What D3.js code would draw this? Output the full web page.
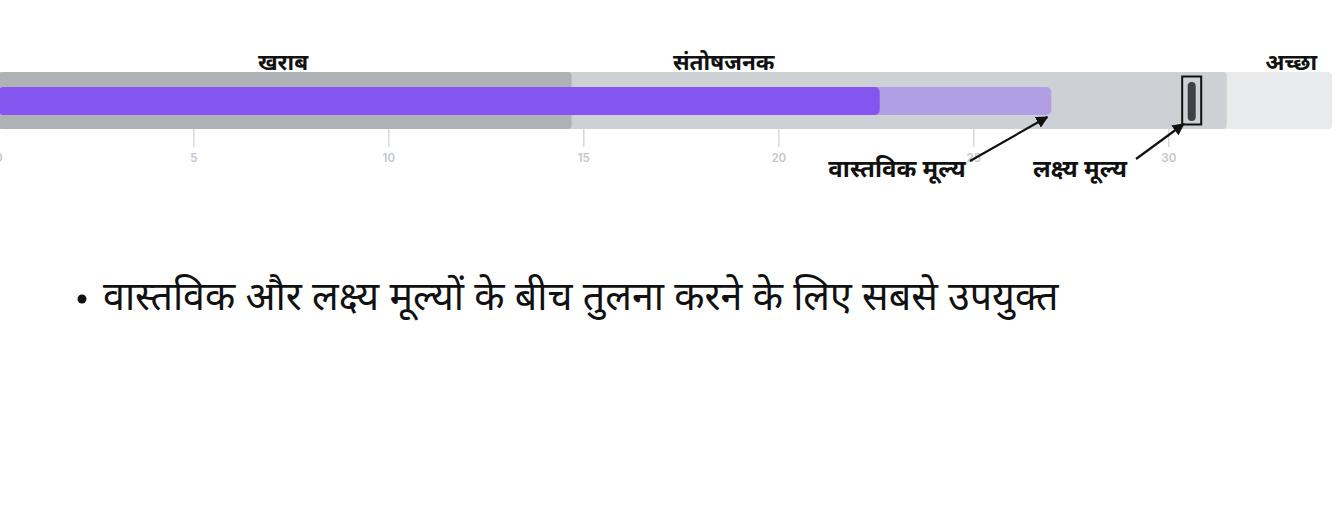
<!DOCTYPE html>
<html><head><meta charset="utf-8">
<script src="https://cdn.jsdelivr.net/npm/d3@7/dist/d3.min.js"></script>
<style>
html,body{margin:0;padding:0;background:#fff;}
svg{display:block;}
</style></head>
<body>
<svg id="chart" width="1342" height="509"></svg>
<script>
// ---- data ----
const bandNames = ["खराब", "संतोषजनक", "अच्छा"];
const bandEnds = [14.7, 31.5, 34.2];
const bandLabelPos = [7.3, 18.6, 33.15];
const actualValue = [22.6];
const projectedValue = [27.0];
const targetValue = [30.6];
const tickValues = [0, 5, 10, 15, 20, 25, 30];
const annotationLabels = ["वास्तविक मूल्य", "लक्ष्य मूल्य"];
const bulletText = ["वास्तविक और लक्ष्य मूल्यों के बीच तुलना करने के लिए सबसे उपयुक्त"];

// ---- drawing ----
(function () {
const svg = d3.select("#chart");
const x = d3.scaleLinear().domain([0, 30]).range([-1.7, 1168.3]);
const bandColors = ["#aeb2b7", "#cdd0d4", "#e9eaec"];
const devFont = "'Noto Sans Devanagari','Noto Sans','Lohit Devanagari','Mangal',sans-serif";

const bandTop = 72, bandH = 57;
const bands = bandEnds.map((e, i) => ({start: i === 0 ? 0 : bandEnds[i - 1], end: e, i}));
svg.append("g").selectAll("rect").data(bands.slice().reverse()).join("rect")
  .attr("x", x(0)).attr("y", bandTop)
  .attr("width", d => x(d.end) - x(0))
  .attr("height", bandH)
  .attr("rx", 4)
  .attr("fill", d => bandColors[d.i]);

svg.append("rect")
  .attr("x", x(0)).attr("y", 87)
  .attr("width", x(projectedValue[0]) - x(0)).attr("height", 28)
  .attr("rx", 5).attr("fill", "#b19fe3");
svg.append("rect")
  .attr("x", x(0)).attr("y", 87)
  .attr("width", x(actualValue[0]) - x(0)).attr("height", 28)
  .attr("rx", 5).attr("fill", "#8555ef");

const tx = x(targetValue[0]);
svg.append("rect").attr("x", tx - 4).attr("y", 82).attr("width", 8).attr("height", 39)
  .attr("rx", 4).attr("fill", "#3d4247");
svg.append("rect").attr("x", tx - 9.5).attr("y", 76.5).attr("width", 19).attr("height", 48)
  .attr("fill", "none").attr("stroke", "#111").attr("stroke-width", 2);

const axis = d3.axisBottom(x).tickValues(tickValues).tickSize(18).tickPadding(4).tickFormat(d3.format("d"));
const ag = svg.append("g").attr("transform", `translate(0,${bandTop + bandH})`).call(axis);
ag.select(".domain").remove();
ag.selectAll(".tick line").attr("stroke", "#d6d9de").attr("stroke-width", 1.5);
ag.selectAll(".tick text").attr("fill", "#c3c7ce").attr("font-family", "Inter, 'Open Sans', sans-serif")
  .attr("font-size", 11.5).attr("font-weight", 600).attr("dy", "0.35em").attr("y", 29);

svg.append("g").selectAll("text").data(bandNames).join("text")
  .attr("x", (d, i) => x(bandLabelPos[i])).attr("y", 70)
  .attr("text-anchor", "middle")
  .attr("font-family", devFont).attr("font-weight", 700).attr("font-size", 22.5)
  .attr("fill", "#111").text(d => d);

const ann = [
  {text: annotationLabels[0], x: 897, y: 177, from: [970, 161], to: [x(projectedValue[0]) - 4, 117]},
  {text: annotationLabels[1], x: 1080, y: 177, from: [1136, 159], to: [tx - 8, 124]}
];
const defs = svg.append("defs");
defs.append("marker").attr("id", "arrow").attr("viewBox", "0 0 10 10").attr("refX", 9).attr("refY", 5)
  .attr("markerWidth", 5.5).attr("markerHeight", 5.5).attr("orient", "auto")
  .append("path").attr("d", "M0,0 L10,5 L0,10 z").attr("fill", "#111");
svg.append("g").selectAll("text").data(ann).join("text")
  .attr("x", d => d.x).attr("y", d => d.y).attr("text-anchor", "middle")
  .attr("font-family", devFont).attr("font-weight", 700).attr("font-size", 24)
  .attr("fill", "#111").text(d => d.text);
svg.append("g").selectAll("line").data(ann).join("line")
  .attr("x1", d => d.from[0]).attr("y1", d => d.from[1])
  .attr("x2", d => d.to[0]).attr("y2", d => d.to[1])
  .attr("stroke", "#111").attr("stroke-width", 2.2).attr("marker-end", "url(#arrow)");

svg.append("circle").attr("cx", 82).attr("cy", 299).attr("r", 4.5).attr("fill", "#111");
svg.append("text").attr("x", 103).attr("y", 310)
  .attr("font-family", devFont).attr("font-size", 39.4).attr("fill", "#111")
  .text(bulletText[0]);
})();
</script>
</body></html>
